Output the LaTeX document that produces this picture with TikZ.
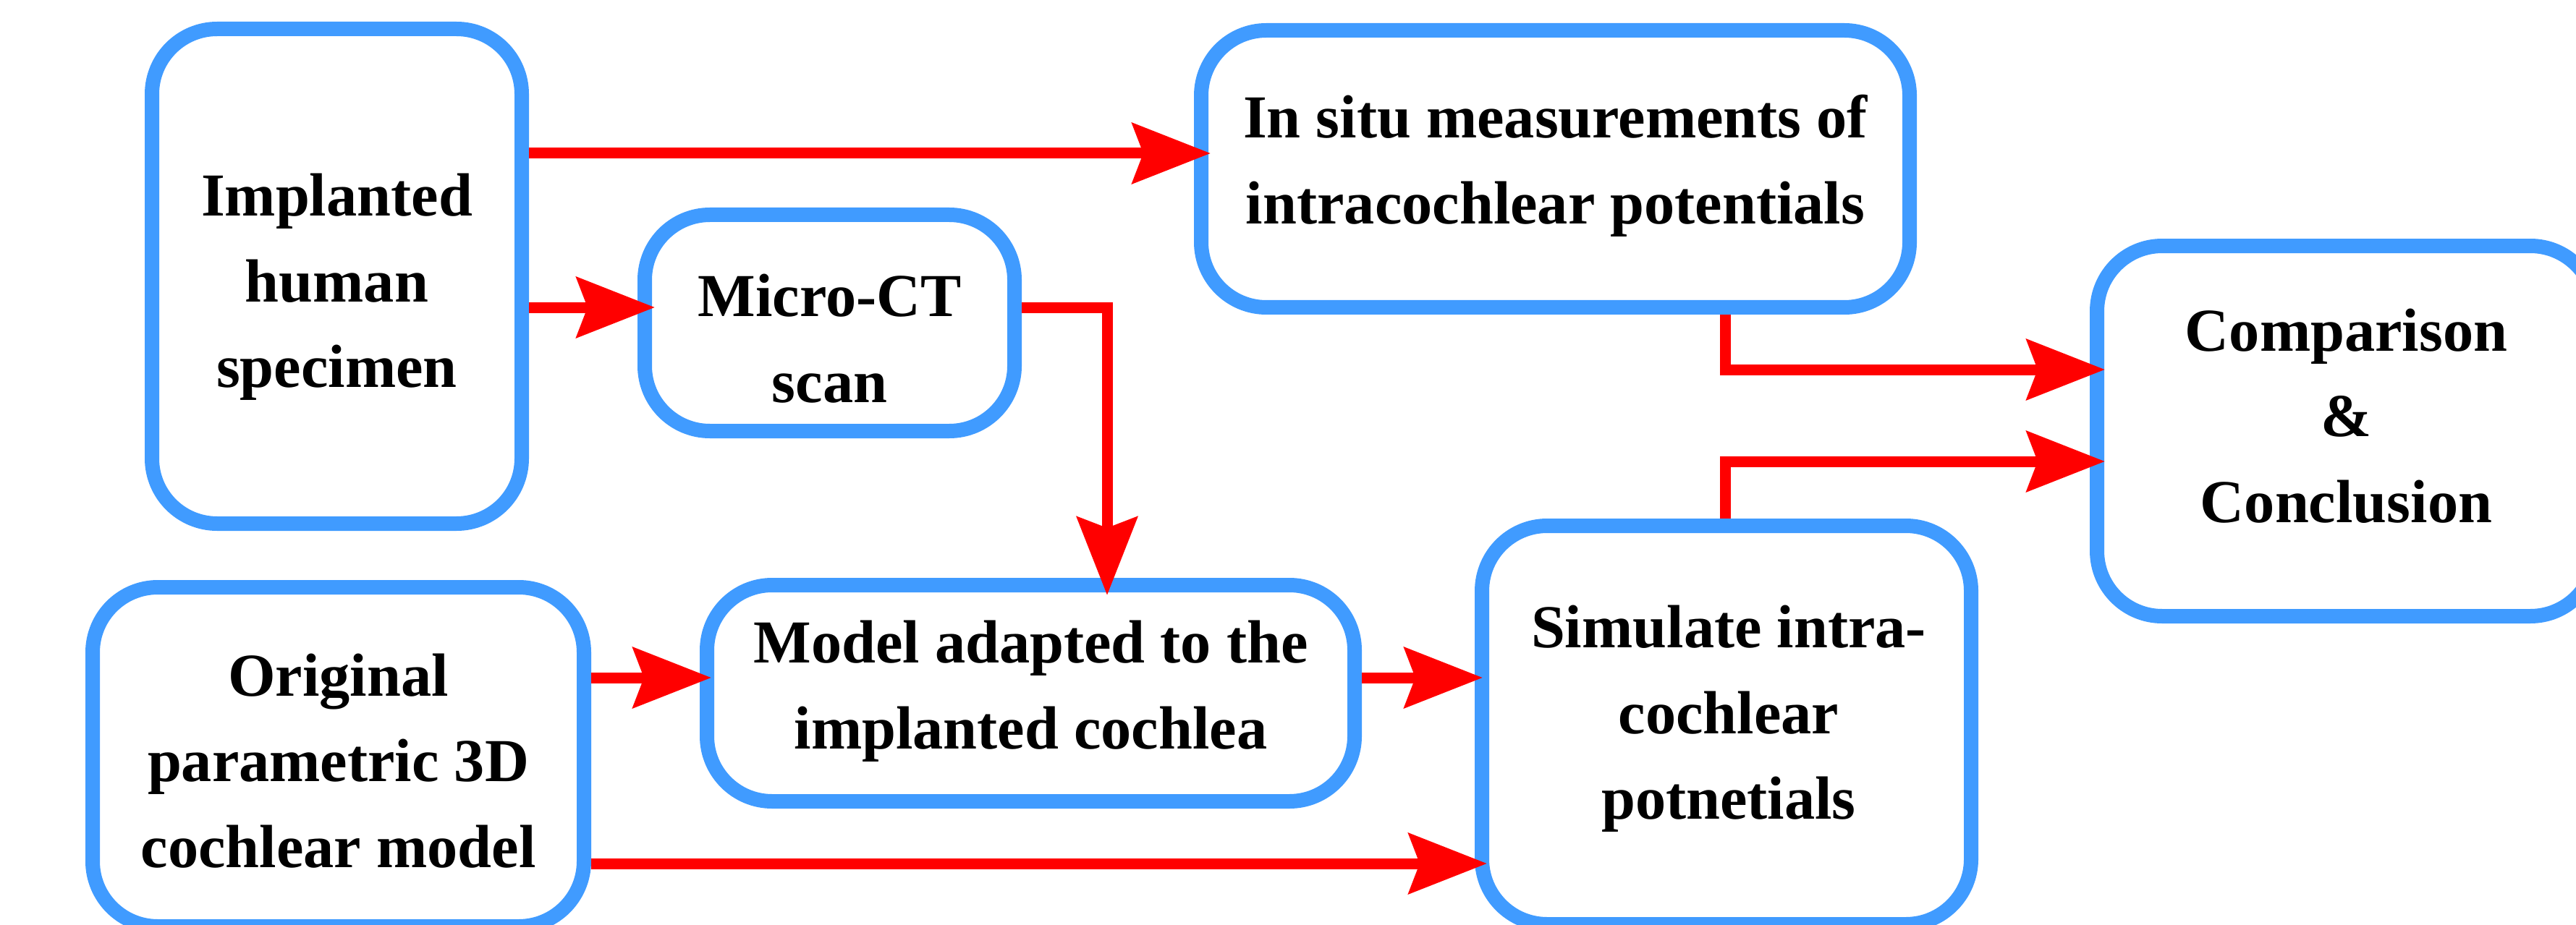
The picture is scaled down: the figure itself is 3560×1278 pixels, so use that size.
\documentclass[tikz,border=0pt]{standalone}
\usepackage{fontspec}
\setmainfont{Liberation Serif}
\usetikzlibrary{arrows.meta,calc}
\definecolor{boxblue}{RGB}{64,155,255}
\definecolor{arrred}{RGB}{255,0,0}
\begin{document}
\begin{tikzpicture}[x=0.1mm,y=-0.1mm,
  box/.style={draw=boxblue, line width=2mm, rounded corners=9mm, rectangle, inner sep=0pt},
  txt/.style={align=center, inner sep=0pt, font=\bfseries\fontsize{24}{33.7}\selectfont},
  arr/.style={draw=arrred, line width=1.5mm, line join=miter, -{Stealth[length=10.8mm,width=8.3mm,inset=1.5mm]}}]
\useasboundingbox[fill=white] (0,0) rectangle (3560,1278);
% boxes
\node[box, minimum width=51.1mm, minimum height=68.4mm] (impl) at (465.5,382) {};
\node[box, minimum width=51.1mm, minimum height=29.9mm] (ct) at (1146.5,446.5) {};
\node[box, minimum width=97.9mm, minimum height=38.3mm] (insitu) at (2149.5,233.5) {};
\node[box, minimum width=68.9mm, minimum height=51.2mm] (comp) at (3242.5,596) {};
\node[box, minimum width=67.9mm, minimum height=46.9mm] (orig) at (467.5,1046.5) {};
\node[box, minimum width=89.5mm, minimum height=29.9mm] (model) at (1424.5,958.5) {};
\node[box, minimum width=67.6mm, minimum height=55.1mm] (sim) at (2386,1002.5) {};
% texts
\node[txt] (timpl) at (465.5,397) {Implanted\\human\\specimen};
\node[txt] (tct) at (1146.5,468) {Micro-CT\\scan};
\node[txt] (tinsitu) at (2149.5,229.5) {In situ measurements of\\intracochlear potentials};
\node[txt] (tcomp) at (3242.5,575) {Comparison\\\&\\Conclusion};
\node[txt] (torig) at (467.5,1052) {Original\\parametric 3D\\cochlear model};
\node[txt] (tmodel) at (1424.5,955.5) {Model adapted to the\\implanted cochlea};
\node[txt] (tsim) at (2389,994) {Simulate intra-\\cochlear\\potnetials};
% arrows
\draw[arr, shorten >=-2.3mm] (impl.east |- 0,212) -- (insitu.west |- 0,212);
\draw[arr, shorten >=-2.4mm] (impl.east |- 0,425) -- (ct.west |- 0,425);
\draw[arr, shorten >=-2.4mm] (ct.east |- 0,425) -| (1530,0 |- model.north);
\draw[arr, shorten >=-1.6mm] (orig.east |- 0,937) -- (model.west |- 0,937);
\draw[arr, shorten >=-1.7mm] (orig.east |- 0,1194) -- (sim.west |- 0,1194);
\draw[arr, shorten >=-1.1mm] (model.east |- 0,937) -- (sim.west |- 0,937);
\draw[arr, shorten >=-2.1mm] (insitu.south -| 2384,0) |- (comp.west |- 0,511);
\draw[arr, shorten >=-2.1mm] (sim.north -| 2384,0) |- (comp.west |- 0,638);
\end{tikzpicture}
\end{document}
